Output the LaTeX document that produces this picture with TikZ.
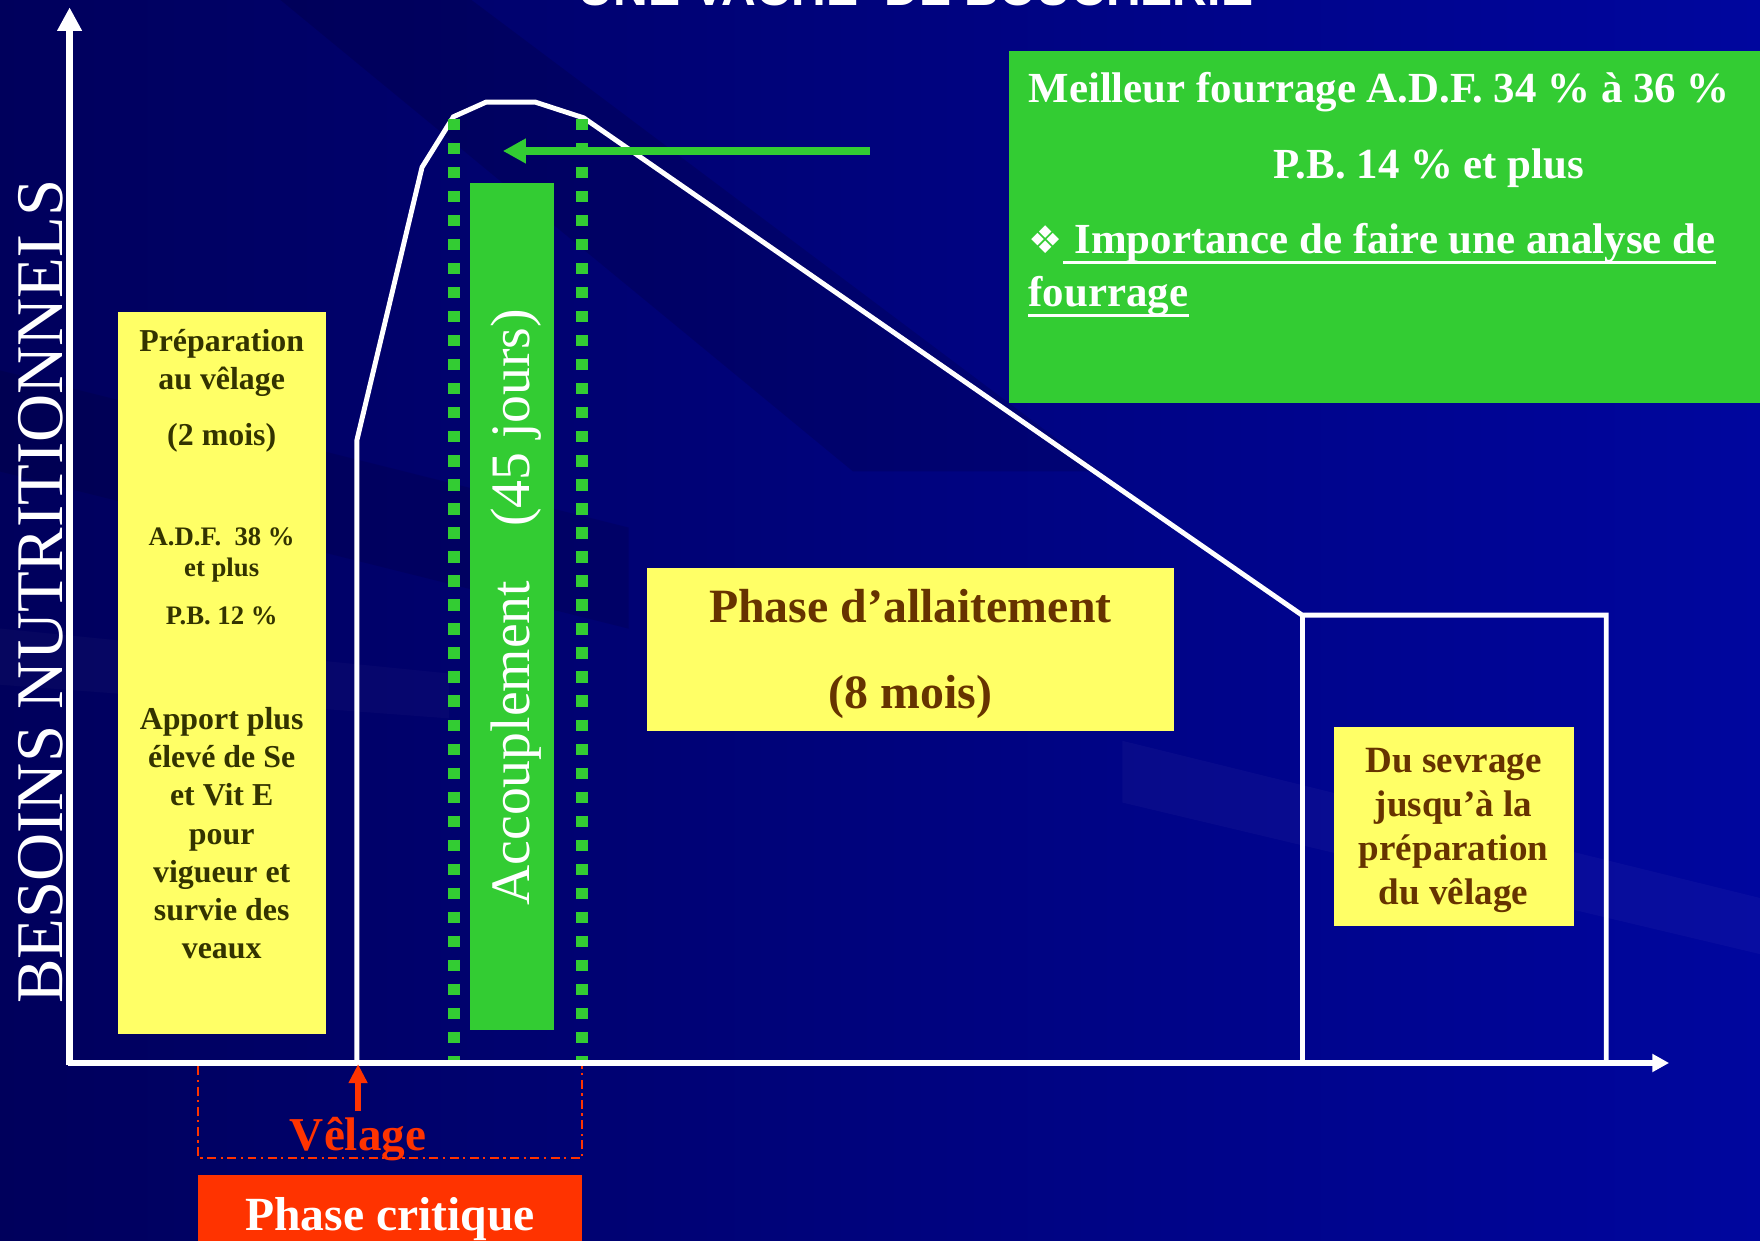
\documentclass[tikz,border=0pt]{standalone}
\usepackage{fontspec}
\setmainfont{Liberation Serif}
\newfontfamily\titlesans{Liberation Sans}
\newfontfamily\symbolfont{DejaVu Sans}
\usetikzlibrary{arrows.meta}
\definecolor{bgdark}{RGB}{0,0,92}
\definecolor{bglight}{RGB}{0,6,158}
\definecolor{boxyellow}{RGB}{255,255,102}
\definecolor{boxgreen}{RGB}{51,204,51}
\definecolor{boxred}{RGB}{255,51,0}
\definecolor{olivetext}{RGB}{51,51,0}
\definecolor{browntext}{RGB}{102,51,0}
\begin{document}
\begin{tikzpicture}[x=0.5pt,y=-0.5pt,
  txt/.style={anchor=base, inner sep=0pt},
  prep/.style={txt, text=olivetext, font=\bfseries\fontsize{14.2}{17}\selectfont},
  prepsmall/.style={txt, text=olivetext, font=\bfseries\fontsize{11.9}{14}\selectfont},
  lact/.style={txt, text=browntext, font=\bfseries\fontsize{21.3}{25}\selectfont},
  sevr/.style={txt, text=browntext, font=\bfseries\fontsize{16.5}{20}\selectfont},
  grntxt/.style={txt, text=white, font=\bfseries\fontsize{19.1}{23}\selectfont},
  underl/.style={draw=white, line width=1.35pt},
  whiteline/.style={draw=white, line width=2.2pt, line join=miter},
  greendots/.style={draw=boxgreen, line width=5.1pt, dash pattern=on 5pt off 5.7pt},
  panel/.style={inner sep=0pt, outer sep=0pt, anchor=north west}
]
\useasboundingbox (0,0) rectangle (1568,1105);
\clip (0,0) rectangle (1568,1105);
% background
\shade[left color=bgdark, right color=bglight] (0,0) rectangle (1568,1105);
\fill[black, opacity=0.12] (250,0) -- (420,0) -- (980,420) -- (760,420) -- cycle;
\fill[black, opacity=0.10] (0,330) -- (0,420) -- (560,560) -- (560,470) -- cycle;
\fill[white, opacity=0.03] (1000,660) -- (1568,800) -- (1568,850) -- (1000,715) -- cycle;
\fill[white, opacity=0.025] (0,560) -- (400,600) -- (400,640) -- (0,610) -- cycle;

% title (cut off at top)
\node[txt, text=white, font=\titlesans\bfseries\fontsize{21.4}{26}\selectfont] (title) at (816,5.3) {UNE VACHE\ \ DE BOUCHERIE};

% y label
\node[txt, rotate=90, text=white, font=\fontsize{29.7}{34}\selectfont] (ylabel) at (55.5,527) {BESOINS NUTRITIONNELS};

% left yellow panel
\node[panel, fill=boxyellow, minimum width=92.5pt, minimum height=321.5pt] (prepbox) at (105,278) {};
\node[prep] (p1) at (197.5,313) {Préparation};
\node[prep] (p2) at (197.5,347) {au vêlage};
\node[prep] (p3) at (197.5,397) {(2 mois)};
\node[prepsmall] (p4) at (197.5,486) {A.D.F.\ \ 38 \%};
\node[prepsmall] (p5) at (197.5,514) {et plus};
\node[prepsmall] (p6) at (197.5,556) {P.B. 12 \%};
\node[prep] (p7) at (197.5,650) {Apport plus};
\node[prep] (p8) at (197.5,684) {élevé de Se};
\node[prep] (p9) at (197.5,718) {et Vit E};
\node[prep] (p10) at (197.5,752) {pour};
\node[prep] (p11) at (197.5,786) {vigueur et};
\node[prep] (p12) at (197.5,820) {survie des};
\node[prep] (p13) at (197.5,854) {veaux};

% green top-right panel
\node[panel, fill=boxgreen, minimum width=334.5pt, minimum height=157pt] (fourbox) at (899,45) {};
\node[grntxt, anchor=base west] (g1) at (916,91) {Meilleur fourrage A.D.F. 34 \% à 36 \%};
\node[grntxt] (g2) at (1273,159) {P.B. 14 \% et plus};
\node[txt, anchor=base west, text=white, font=\symbolfont\fontsize{17}{20}\selectfont] (g3s) at (916,226) {❖};
\node[grntxt, anchor=base west] (g3t) at (g3s.base east) {\ Importance de faire une analyse de};
\node[grntxt, anchor=base west] (g4) at (916,273) {fourrage};
\draw[underl] ([yshift=-4pt]g3t.base west) -- ([yshift=-4pt]g3t.base east);
\draw[underl] ([yshift=-4pt]g4.base west) -- ([yshift=-4pt]g4.base east);

% white requirement curve
\draw[whiteline] (318,947) -- (318,392) -- (376,149) -- (404,104) -- (433,91) -- (477,91) -- (520,105) -- (1160,548) -- (1431,548) -- (1431,947);
\draw[whiteline] (1160,548) -- (1160,947);

% green bar and dotted lines
\node[panel, fill=boxgreen, minimum width=37.5pt, minimum height=377.5pt] (accbar) at (419,163) {};
\draw[greendots] (404.5,106) -- (404.5,947);
\draw[greendots] (518.5,106) -- (518.5,947);
\node[txt, rotate=90, text=white, font=\fontsize{24.8}{28}\selectfont] (acc) at (472,541) {Accouplement\hspace{0.97em}(45 jours)};

% green arrow
\coordinate (arrfrom) at (775,134.5);
\coordinate (arrto) at (448,134.5);
\draw[boxgreen, line width=3.4pt, -{Triangle[length=10.3pt,width=10.5pt]}] (arrfrom) -- (arrto);

% lactation panel
\node[panel, fill=boxyellow, minimum width=235pt, minimum height=72.5pt] (lactbox) at (576,506) {};
\node[lact] (l1) at (811,555) {Phase d’allaitement};
\node[lact] (l2) at (811,631) {(8 mois)};

% weaning panel
\node[panel, fill=boxyellow, minimum width=106.75pt, minimum height=88.5pt] (sevbox) at (1188.5,648) {};
\node[sevr] (s1) at (1295,688) {Du sevrage};
\node[sevr] (s2) at (1295,727.5) {jusqu’à la};
\node[sevr] (s3) at (1295,767) {préparation};
\node[sevr] (s4) at (1295,806) {du vêlage};

% axes
\coordinate (origin) at (62,947);
\coordinate (ytop) at (62,6.5);
\coordinate (xend) at (1487,947);
\draw[white, line width=3pt, -{Triangle[length=10.5pt,width=10.4pt]}] (62,949) -- (ytop);
\draw[white, line width=2.6pt, -{Triangle[length=7.5pt,width=7.7pt]}] (60.5,947) -- (xend);

% critical phase
\draw[boxred, line width=0.9pt, dash pattern=on 4pt off 2pt on 1pt off 2pt] (176.5,950) -- (176.5,1032) -- (518.5,1032) -- (518.5,950);
\coordinate (velfrom) at (319,990);
\coordinate (velto) at (319,948);
\draw[boxred, line width=2.6pt, -{Triangle[length=8.5pt,width=8pt]}] (velfrom) -- (velto);
\node[txt, text=boxred, font=\bfseries\fontsize{21}{25}\selectfont] (velage) at (319,1025) {Vêlage};
\node[panel, fill=boxred, minimum width=171pt, minimum height=35pt] (critbox) at (176.5,1047) {};
\node[txt, text=white, font=\bfseries\fontsize{21.2}{25}\selectfont] (crit) at (347.5,1096) {Phase critique};
\end{tikzpicture}
\end{document}
